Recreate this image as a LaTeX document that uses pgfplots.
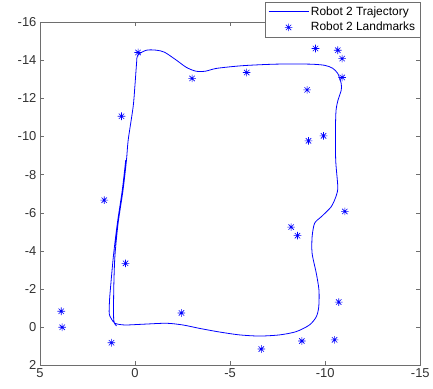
\documentclass[border=0pt]{standalone}
\usepackage{fontspec}
\setmainfont{Liberation Sans}
\usepackage{pgfplots}
\pgfplotsset{compat=1.18}
\definecolor{axgray}{RGB}{110,110,110}
\definecolor{txtgray}{RGB}{50,50,50}
\definecolor{trajblue}{RGB}{0,0,255}
\pgfdeclareplotmark{mstar}{%
 \pgfpathmoveto{\pgfpoint{-\pgfplotmarksize}{0pt}}\pgfpathlineto{\pgfpoint{\pgfplotmarksize}{0pt}}%
 \pgfpathmoveto{\pgfpoint{0pt}{-\pgfplotmarksize}}\pgfpathlineto{\pgfpoint{0pt}{\pgfplotmarksize}}%
 \pgfpathmoveto{\pgfpoint{-0.707\pgfplotmarksize}{-0.707\pgfplotmarksize}}\pgfpathlineto{\pgfpoint{0.707\pgfplotmarksize}{0.707\pgfplotmarksize}}%
 \pgfpathmoveto{\pgfpoint{-0.707\pgfplotmarksize}{0.707\pgfplotmarksize}}\pgfpathlineto{\pgfpoint{0.707\pgfplotmarksize}{-0.707\pgfplotmarksize}}%
 \pgfusepathqstroke}
\pgfplotsset{
  trajleg/.style={legend image code/.code={\begin{scope}\color{trajblue}\draw[trajblue,line width=0.9pt] (0bp,0bp) -- (40bp,0bp);\end{scope}}},
  markleg/.style={legend image code/.code={\begin{scope}\color{trajblue}\draw[trajblue,line width=0.6pt] plot[only marks,mark=mstar,mark size=3.8bp] coordinates {(20bp,0bp)};\end{scope}}},
}
\begin{document}
\begin{tikzpicture}
\begin{axis}[
  name=ax,
  scale only axis,
  width=381bp, height=344bp,
  x dir=reverse, y dir=reverse,
  xmin=-15, xmax=5, ymin=-16, ymax=2,
  xtick={-15,-10,-5,0,5},
  ytick={-16,-14,-12,-10,-8,-6,-4,-2,0,2},
  tick align=inside,
  major tick length=4bp,
  axis line style={axgray},
  every tick/.style={axgray},
  tick label style={font=\fontsize{13}{15}\selectfont, text=txtgray},
  /pgf/number format/assume math mode=true,
  legend style={at={(1,1.058)}, anchor=north east, draw=axgray, fill=white,
    font=\fontsize{12}{14}\selectfont, cells={anchor=west},
    inner xsep=3bp, inner ysep=2.5bp, row sep=1.5bp},
]
\addplot[trajblue, line width=0.8pt, smooth, tension=0.45, trajleg] coordinates {
(0.97,-0.07) (1.12,-0.38) (1.12,-1.95) (1.06,-3.70) (0.89,-5.45) (0.63,-7.19)
(0.45,-8.76) (0.36,-9.81) (0.10,-11.55) (0.01,-12.60) (-0.08,-13.82) (-0.14,-14.26)
(-0.60,-14.52) (-1.13,-14.52) (-1.56,-14.41) (-2.20,-13.98) (-2.70,-13.62)
(-3.20,-13.42) (-3.70,-13.42) (-4.30,-13.57) (-5.67,-13.71) (-7.43,-13.79)
(-9.17,-13.79) (-9.96,-13.73) (-10.38,-13.58) (-10.66,-13.30) (-10.84,-12.77)
(-10.84,-12.42) (-10.67,-11.90) (-10.57,-11.38) (-10.54,-10.50) (-10.55,-8.76)
(-10.66,-7.36) (-10.57,-6.87) (-10.31,-6.31) (-9.79,-5.79) (-9.44,-5.45)
(-9.31,-4.74) (-9.31,-3.87) (-9.53,-2.83) (-9.67,-1.95) (-9.66,-1.08)
(-9.53,-0.55) (-9.17,-0.12) (-8.47,0.23) (-7.60,0.40) (-6.55,0.46) (-5.50,0.40)
(-4.45,0.25) (-3.40,0.06) (-2.52,-0.12) (-1.65,-0.21) (-0.42,-0.16) (0.54,-0.12)
(1.06,-0.21) (1.27,-0.49) (1.36,-0.73) (1.34,-1.43) (1.30,-1.95) (1.14,-3.70)
(0.93,-5.45) (0.67,-7.19) (0.49,-8.76)
};
\addlegendentry{Robot 2 Trajectory}
\addplot[trajblue, only marks, mark=mstar, mark size=3.8bp, line width=0.6pt, markleg] coordinates {
(-0.16,-14.40) (-3.00,-13.04) (0.71,-11.06) (1.62,-6.66)
(-9.49,-14.61) (-10.66,-14.52) (-10.89,-14.08) (-10.89,-13.09)
(-5.87,-13.35) (-9.05,-12.44) (-9.91,-10.03) (-9.12,-9.77)
(-11.03,-6.07) (-8.21,-5.25) (-8.54,-4.80) (-10.71,-1.32)
(-10.49,0.66) (-8.77,0.72) (-6.64,1.14) (0.50,-3.35)
(3.88,-0.84) (3.83,0.00) (1.24,0.81) (-2.44,-0.75)
};
\addlegendentry{Robot 2 Landmarks}
\end{axis}
\path ([shift={(-40bp,-23bp)}]ax.south west) rectangle ([shift={(12bp,22bp)}]ax.north east);
\end{tikzpicture}
\end{document}
